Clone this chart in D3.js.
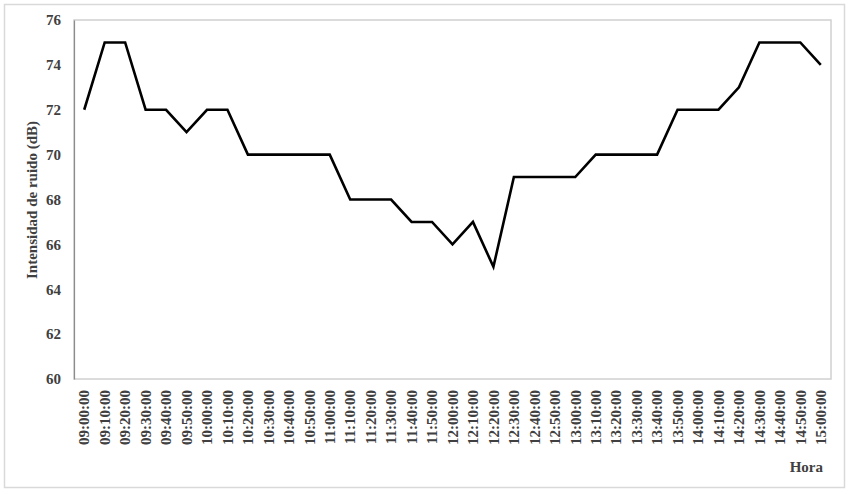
<!DOCTYPE html>
<html>
<head>
<meta charset="utf-8">
<script src="https://cdn.jsdelivr.net/npm/d3@7"></script>
<style>
  body { margin: 0; background: #fff; }
</style>
</head>
<body>
<div id="chart"></div>
<script>
// hours of the measurement, every 10 minutes
let horas = ["09:00:00","09:10:00","09:20:00","09:30:00","09:40:00","09:50:00",
  "10:00:00","10:10:00","10:20:00","10:30:00","10:40:00","10:50:00",
  "11:00:00","11:10:00","11:20:00","11:30:00","11:40:00","11:50:00",
  "12:00:00","12:10:00","12:20:00","12:30:00","12:40:00","12:50:00",
  "13:00:00","13:10:00","13:20:00","13:30:00","13:40:00","13:50:00",
  "14:00:00","14:10:00","14:20:00","14:30:00","14:40:00","14:50:00","15:00:00"];
let ruido = [72,75,75,72,72,71,72,72,70,70,70,70,70,68,68,68,67,67,
  66,67,65,69,69,69,69,70,70,70,70,72,72,72,73,75,75,75,74];
let yTicks = [60,62,64,66,68,70,72,74,76];

let width = 849;
let height = 496;
let margin = {top: 20, right: 18, bottom: 117, left: 74};
let serif = "'Liberation Serif', 'Times New Roman', serif";

let svg = d3.select("#chart").append("svg")
  .attr("width", width)
  .attr("height", height);

// outer frame
svg.append("rect")
  .attr("x", 4.5).attr("y", 4.5)
  .attr("width", width - 9).attr("height", height - 13)
  .attr("fill", "none")
  .attr("stroke", "#d9d9d9")
  .attr("stroke-width", 1.5);

let x = d3.scaleBand()
  .domain(horas)
  .range([margin.left, width - margin.right]);

let y = d3.scaleLinear()
  .domain([60, 76])
  .range([height - margin.bottom, margin.top]);

// plot area border
svg.append("rect")
  .attr("x", margin.left).attr("y", margin.top)
  .attr("width", width - margin.right - margin.left)
  .attr("height", height - margin.bottom - margin.top)
  .attr("fill", "none")
  .attr("stroke", "#d0d0d0")
  .attr("stroke-width", 1.5);

let yAxis = svg.append("g")
  .attr("transform", "translate(" + margin.left + ",0)")
  .call(d3.axisLeft(y).tickValues(yTicks).tickSize(0).tickPadding(13));
yAxis.select(".domain").attr("stroke", "#8c8c8c").attr("stroke-width", 1.2);

let xAxis = svg.append("g")
  .attr("transform", "translate(0," + (height - margin.bottom) + ")")
  .call(d3.axisBottom(x).tickSize(0));
xAxis.select(".domain").remove();
xAxis.selectAll("text")
  .attr("transform", "rotate(-90)")
  .attr("text-anchor", "end")
  .attr("x", -11)
  .attr("y", 0)
  .attr("dy", "0.35em");

// y axis title
svg.append("text")
  .attr("class", "title")
  .attr("transform", "translate(37,200) rotate(-90)")
  .attr("text-anchor", "middle")
  .text("Intensidad de ruido (dB)");

svg.append("text")
  .attr("class", "title")
  .attr("x", 823)
  .attr("y", 472)
  .attr("text-anchor", "end")
  .text("Hora");

svg.selectAll("text")
  .style("font-family", serif)
  .style("font-weight", "bold")
  .style("fill", "#404040");
yAxis.selectAll("text").style("font-size", "15px");
xAxis.selectAll("text").style("font-size", "15px");
svg.selectAll(".title").style("font-size", "15px");

let line = d3.line()
  .x((d, i) => x(horas[i]) + x.bandwidth() / 2)
  .y(d => y(d));

svg.append("path")
  .datum(ruido)
  .attr("d", line)
  .attr("fill", "none")
  .attr("stroke", "#000")
  .attr("stroke-width", 2.6)
  .attr("stroke-linejoin", "miter");
</script>
</body>
</html>
